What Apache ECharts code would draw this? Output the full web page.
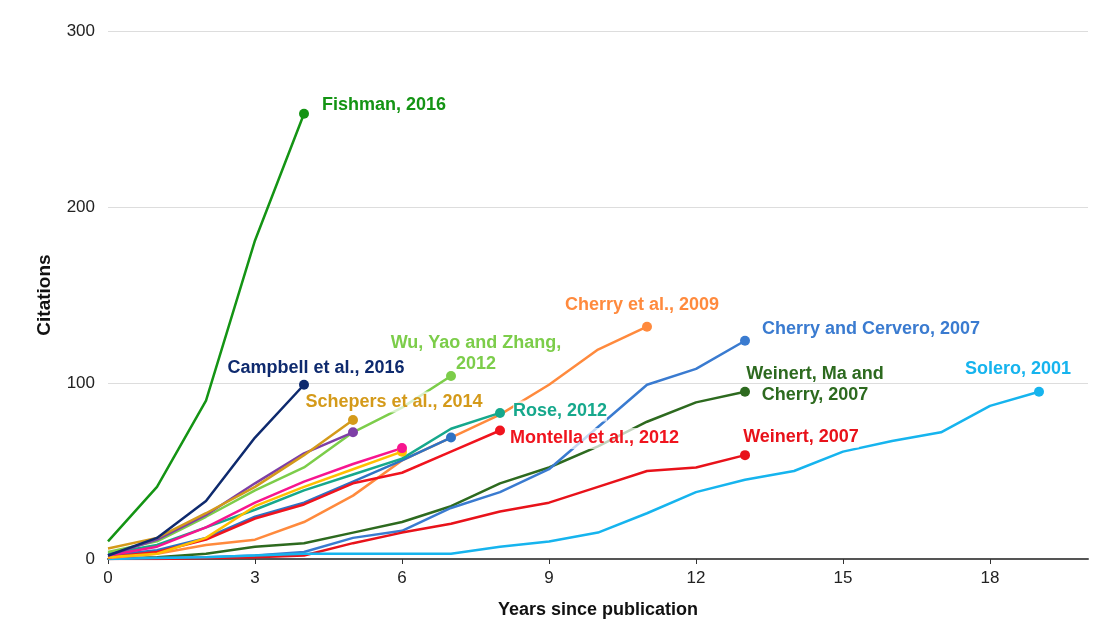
<!DOCTYPE html>
<html>
<head>
<meta charset="utf-8">
<script src="https://cdn.jsdelivr.net/npm/echarts@6/dist/echarts.min.js"></script>
<style>
  html, body { margin: 0; padding: 0; background: #fff; }
  #chart { width: 1105px; height: 634px; }
</style>
</head>
<body>
<div id="chart"></div>
<script>
// citations per year since publication (index = year)
const fishman      = [10, 41, 90, 181, 253]
const campbell     = [2, 12, 33, 69, 99]
const schepers     = [6, 12, 26, 41, 59, 79]
const purpleSeries = [2, 11, 25, 43, 60, 72]
const wuYaoZhang   = [4, 10, 24, 39, 52, 72, 86, 104]
const pinkSeries   = [2, 7, 18, 32, 44, 54, 63]
const yellowSeries = [1, 3, 12, 30, 41, 51, 61]
const rose         = [3, 8, 18, 28, 39, 48, 57, 74, 83]
const blueSeries   = [2, 5, 12, 24, 32, 44, 56, 69]
const montella     = [1, 4, 11, 23, 31, 43, 49, 61, 73]
const cherry2009   = [0.5, 3, 8, 11, 21, 36, 56, 69, 82, 99, 119, 132]
const weinertMa    = [0, 1, 3, 7, 9, 15, 21, 30, 43, 52, 64, 78, 89, 95]
const cherryCerv   = [0, 0.5, 1, 2, 4, 12, 16, 29, 38, 51, 75, 99, 108, 124]
const weinert      = [0, 0, 0.5, 1, 2, 9, 15, 20, 27, 32, 41, 50, 52, 59]
const solero       = [0, 0.5, 1, 2, 3, 3, 3, 3, 7, 10, 15, 26, 38, 45, 50, 61, 67, 72, 87, 95]

const xTicks = [0, 3, 6, 9, 12, 15, 18]
const yTicks = [0, 100, 200, 300]

const FONT = '"Liberation Sans", Arial, sans-serif'

// label placement relative to the end point: [dx, dy], text align
const seriesDefs = [
  { name: 'Weinert, Ma and\nCherry, 2007', data: weinertMa, color: '#2d6a1f', label: { offset: [70, -7], align: 'center', noBg: true } },
  { name: 'Cherry and Cervero, 2007', data: cherryCerv, color: '#3a7bd0', label: { offset: [17, -12], align: 'left' } },
  { name: 'Weinert, 2007', data: weinert, color: '#e8121a', label: { offset: [56, -18], align: 'center' } },
  { name: 'Solero, 2001', data: solero, color: '#16b4ee', label: { offset: [-21, -23], align: 'center' } },
  { name: 'Cherry et al., 2009', data: cherry2009, color: '#ff8a3d', label: { offset: [-5, -22], align: 'center' } },
  { name: 'blue', data: blueSeries, color: '#2f73c4' },
  { name: 'Montella et al., 2012', data: montella, color: '#f0141e', label: { offset: [10, 8], align: 'left' } },
  { name: 'Rose, 2012', data: rose, color: '#16a88c', label: { offset: [13, -2], align: 'left' } },
  { name: 'yellow', data: yellowSeries, color: '#ffbf00' },
  { name: 'pink', data: pinkSeries, color: '#f7158f' },
  { name: 'Wu, Yao and Zhang,\n2012', data: wuYaoZhang, color: '#7ccd4a', label: { offset: [25, -22], align: 'center', noBg: true } },
  { name: 'purple', data: purpleSeries, color: '#7e3fa6' },
  { name: 'Schepers et al., 2014', data: schepers, color: '#d49a1a', label: { offset: [41, -18], align: 'center' } },
  { name: 'Campbell et al., 2016', data: campbell, color: '#0e2a6e', label: { offset: [12, -17], align: 'center' } },
  { name: 'Fishman, 2016', data: fishman, color: '#149414', label: { offset: [18, -9], align: 'left' } },
]

const series = seriesDefs.map(def => {
  const last = def.data.length - 1
  return {
    name: def.name,
    type: 'line',
    data: def.data.map((v, i) => {
      if (i !== last) return [i, v]
      return {
        value: [i, v],
        symbol: 'circle',
        symbolSize: 10,
        label: def.label ? {
          show: true,
          formatter: def.name,
          position: 'inside',
          align: def.label.align,
          verticalAlign: 'middle',
          offset: def.label.offset,
          color: def.color,
          fontFamily: FONT,
          fontWeight: 'bold',
          fontSize: 18,
          lineHeight: 21,
          backgroundColor: def.label.noBg ? 'transparent' : 'rgba(255,255,255,0.7)',
        } : { show: false },
      }
    }),
    showAllSymbol: true,
    symbol: 'none',
    lineStyle: { color: def.color, width: 2.5 },
    itemStyle: { color: def.color },
    emphasis: { disabled: true },
    animation: false,
  }
})

const chart = echarts.init(document.getElementById('chart'))
chart.setOption({
  backgroundColor: '#fff',
  grid: { left: 108, right: 17, top: 31, bottom: 75, containLabel: false },
  xAxis: {
    type: 'value',
    min: 0,
    max: 20,
    interval: 3,
    name: 'Years since publication',
    nameLocation: 'middle',
    nameGap: 42,
    nameTextStyle: { fontFamily: FONT, fontWeight: 'bold', fontSize: 18, color: '#111' },
    axisLine: { lineStyle: { color: '#555', width: 2 } },
    axisTick: { show: true, length: 5, lineStyle: { color: '#333' } },
    axisLabel: {
      fontFamily: FONT, fontSize: 17, color: '#222', margin: 11,
      showMaxLabel: false,
      formatter: v => xTicks.includes(v) ? String(v) : '',
    },
    splitLine: { show: false },
  },
  yAxis: {
    type: 'value',
    min: 0,
    max: 300,
    interval: 100,
    name: 'Citations',
    nameLocation: 'middle',
    nameGap: 54,
    nameTextStyle: { fontFamily: FONT, fontWeight: 'bold', fontSize: 19, color: '#111' },
    axisLine: { show: false },
    axisTick: { show: false },
    axisLabel: {
      fontFamily: FONT, fontSize: 17, color: '#222', margin: 13,
      formatter: v => yTicks.includes(v) ? String(v) : '',
    },
    splitLine: { lineStyle: { color: '#ddd', width: 1 } },
  },
  series,
})
</script>
</body>
</html>
